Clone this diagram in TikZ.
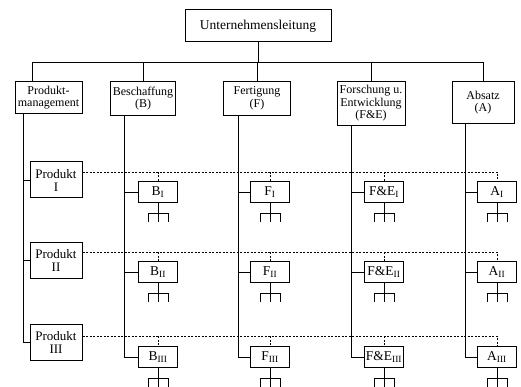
\documentclass[tikz,border=0pt]{standalone}
\usepackage{fontspec}
\setmainfont{Liberation Serif}

\begin{document}
\begin{tikzpicture}[x=1pt,y=-1pt,line width=0.9pt,
    box/.style={draw,line width=1pt,align=center,inner sep=1pt},
    headbox/.style={box,anchor=north,font=\fontsize{12}{12.5}\selectfont},
    prodbox/.style={box,minimum width=52pt,minimum height=36pt,font=\fontsize{13}{13}\selectfont},
    subbox/.style={box,minimum width=39pt,minimum height=21pt,font=\fontsize{13.5}{14}\selectfont},
    dashline/.style={dash pattern=on 2pt off 1.5pt,line width=0.8pt}]
    \useasboundingbox (0,0) rectangle (521,387);

    % draw top node
    \node[box,minimum width=146pt,minimum height=32pt,font=\fontsize{13.5}{14}\selectfont] (ul) at (258,26) {Unternehmensleitung};

    % draw column heads
    \node[headbox,minimum width=67pt,minimum height=32pt] (pm) at (48.5,81) {Produkt-\\management};
    \node[headbox,minimum width=65pt,minimum height=34pt] (besch) at (143,81) {Beschaffung\\(B)};
    \node[headbox,minimum width=67pt,minimum height=34pt] (fert) at (257,81) {Fertigung\\(F)};
    \node[headbox,minimum width=68pt,minimum height=44pt] (fue) at (371,81) {Forschung u.\\Entwicklung\\(F\&E)};
    \node[headbox,minimum width=62pt,minimum height=42pt] (absatz) at (483,81) {Absatz\\(A)};

    % draw bus
    \coordinate (bus) at (0,62);
    \coordinate (dpm) at (32,0);
    \draw (ul.south) -- (ul.south |- bus);
    \draw (dpm |- pm.north) |- (absatz.north |- bus) -- (absatz.north);
    \foreach \n in {besch,fert,fue}
        \draw (\n.north) -- (\n.north |- bus);

    % draw product nodes
    \node[prodbox] (p1) at (56,180) {Produkt\\I};
    \node[prodbox] (p2) at (56,260) {Produkt\\II};
    \node[prodbox] (p3) at (56,342) {Produkt\\III};

    % draw sub nodes
    \foreach \r/\y/\s in {1/192/I,2/272/II,3/357/III} {
        \node[subbox] (b\r) at (158,\y) {B\textsubscript{\s}};
        \node[subbox] (f\r) at (270,\y) {F\textsubscript{\s}};
        \node[subbox] (e\r) at (384,\y) {F\&E\textsubscript{\s}};
        \node[subbox] (a\r) at (497,\y) {A\textsubscript{\s}};
    }

    % draw vertical lines
    \coordinate (cp) at (23,0);
    \coordinate (cb) at (124,0);
    \coordinate (cf) at (238,0);
    \coordinate (ce) at (351,0);
    \coordinate (ca) at (465,0);
    \draw (cp |- pm.south) |- (p3.west);
    \draw (cp |- p1.west) -- (p1.west);
    \draw (cp |- p2.west) -- (p2.west);
    \foreach \c/\h/\s in {cb/besch/b,cf/fert/f,ce/fue/e,ca/absatz/a} {
        \draw (\c |- \h.south) |- (\s3.west);
        \draw (\c |- \s1.west) -- (\s1.west);
        \draw (\c |- \s2.west) -- (\s2.west);
    }

    % draw dashed lines
    \foreach \r/\y in {1/172,2/252,3/336} {
        \coordinate (d\r) at (0,\y);
        \draw[dashline] (p\r.east |- d\r) -| (a\r.north);
        \foreach \s in {b,f,e}
            \draw[dashline] (\s\r.north |- d\r) -- (\s\r.north);
    }

    % draw small trees
    \foreach \s in {b,f,e,a}
        \foreach \r in {1,2,3}
            \draw (\s\r.south) -- ++(0,19) (\s\r.south) ++(-10,19) |- ++(20,-9) -- ++(0,9);
\end{tikzpicture}
\end{document}
